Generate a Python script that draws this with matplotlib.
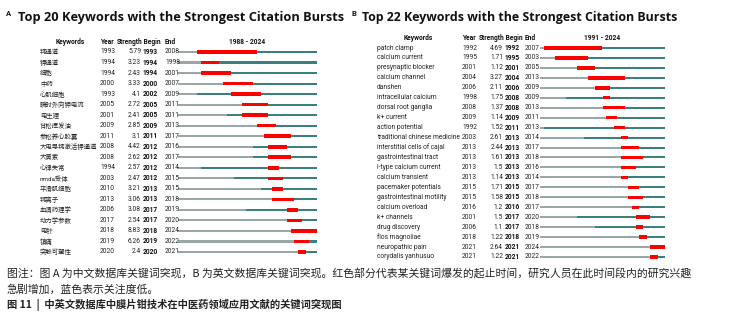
import matplotlib
matplotlib.use("Agg")
import matplotlib.pyplot as plt
from matplotlib.transforms import blended_transform_factory

W, H = 742, 320

# panel A: Chinese database
kw_a = ["钙通道", "钾通道", "细胞", "中药", "心肌细胞", "瞬时外向钾电流", "电生理",
        "甘松挥发油", "参松养心胶囊", "大电导钙激活钾通道", "大黄素", "心律失常",
        "nmda受体", "平滑肌细胞", "钙离子", "血清药理学", "动力学参数", "电针",
        "镇痛", "突触可塑性"]
year_a = [1993, 1994, 1994, 2000, 1993, 2005, 2001, 2009, 2011, 2008, 2008, 1994,
          2003, 2010, 2013, 2006, 2017, 2018, 2019, 2020]
strength_a = ["5.79", "3.23", "2.43", "3.33", "4.1", "2.72", "2.41", "2.85", "3.1", "4.42",
              "2.62", "2.57", "2.47", "3.21", "3.06", "3.08", "2.54", "8.83", "6.26", "2.4"]
begin_a = [1993, 1994, 1994, 2000, 2002, 2005, 2005, 2009, 2011, 2012, 2012, 2012,
           2012, 2013, 2013, 2017, 2017, 2018, 2019, 2020]
end_a = [2008, 1998, 2001, 2007, 2009, 2011, 2011, 2013, 2017, 2016, 2017, 2014,
         2015, 2015, 2018, 2019, 2020, 2024, 2022, 2021]
range_a = (1988, 2024)

# panel B: English database
kw_b = ["patch clamp", "calcium current", "presynaptic blocker", "calcium channel",
        "danshen", "intracellular calcium", "dorsal root ganglia", "k+ current",
        "action potential", "traditional chinese medicine", "interstitial cells of cajal",
        "gastrointestinal tract", "l-type calcium current", "calcium transient",
        "pacemaker potentials", "gastrointestinal motility", "calcium overload",
        "k+ channels", "drug discovery", "flos magnoliae", "neuropathic pain",
        "corydalis yanhusuo"]
year_b = [1992, 1995, 2001, 2004, 2006, 1998, 2008, 2009, 1992, 2003, 2013, 2013,
          2013, 2013, 2015, 2015, 2016, 2001, 2006, 2018, 2021, 2021]
strength_b = ["4.69", "1.71", "1.12", "3.27", "2.11", "1.75", "1.37", "1.14", "1.52", "2.61",
              "2.44", "1.61", "1.5", "1.14", "1.71", "1.58", "1.2", "1.5", "1.1", "1.22",
              "2.64", "1.22"]
begin_b = [1992, 1995, 2001, 2004, 2006, 2008, 2008, 2009, 2011, 2013, 2013, 2013,
           2013, 2013, 2015, 2015, 2016, 2017, 2017, 2018, 2021, 2021]
end_b = [2007, 2003, 2005, 2013, 2009, 2009, 2013, 2011, 2013, 2014, 2017, 2018,
         2016, 2014, 2017, 2018, 2017, 2020, 2018, 2019, 2024, 2022]
range_b = (1991, 2024)

caption1 = ("图注：图 A 为中文数据库关键词突现，B 为英文数据库关键词突现。红色部分代表某关键词爆发的起止时间，"
            "研究人员在此时间段内的研究兴趣")
caption2 = "急剧增加，蓝色表示关注度低。"
caption3 = "图 11  |  中英文数据库中膜片钳技术在中医药领域应用文献的关键词突现图"

GRAY, TEAL, RED = "#9ba7a7", "#3b807d", "#ff0000"
TXT = ["Roboto", "Noto Sans CJK SC", "DejaVu Sans"]
TTL = ["Open Sans", "DejaVu Sans"]
CJK = ["Noto Sans CJK SC", "DejaVu Sans"]

fig = plt.figure(figsize=(W / 100, H / 100), dpi=100)


def fx(px):
    return px / W


def fy(py):
    return 1 - py / H


def panel(letter, title, kws, years, strengths, begins, ends, yr, lay):
    n = len(kws)
    y0, y1 = lay["row0"], lay["rowN"]
    step = (y1 - y0) / (n - 1)
    top, bot = y0 - step / 2, y1 + step / 2
    ax = fig.add_axes([fx(lay["bx0"]), fy(bot), fx(lay["bx1"] - lay["bx0"]), (bot - top) / H])
    ax.set_xlim(yr[0], yr[1] + 1)
    ax.set_ylim(n - 0.5, -0.5)
    ax.axis("off")
    rows = list(range(n))
    # grey before first appearance, teal afterwards, red during the burst
    ax.barh(rows, [y - yr[0] for y in years], left=yr[0], height=0.2, color=GRAY, lw=0)
    ax.barh(rows, [yr[1] + 1 - y for y in years], left=years, height=0.2, color=TEAL, lw=0)
    ax.barh(rows, [e + 1 - b for b, e in zip(begins, ends)], left=begins, height=0.34,
            color=RED, lw=0)

    tr = blended_transform_factory(fig.transFigure, ax.transData)
    fs = 4.8
    for i in rows:
        ax.text(fx(lay["kw"]), i, kws[i], transform=tr, fontsize=lay["kwfs"], family=TXT,
                va="center", ha="left", color="#222222")
        ax.text(fx(lay["yr"]), i, str(years[i]), transform=tr, fontsize=fs, family=TXT,
                va="center", ha="left", color="#222222")
        ax.text(fx(lay["st"]), i, strengths[i], transform=tr, fontsize=fs, family=TXT,
                va="center", ha="right", color="#222222")
        ax.text(fx(lay["st"] + 1.5), i, str(begins[i]), transform=tr, fontsize=fs,
                family=TXT, fontweight="bold", va="center", ha="left", color="#111111")
        ax.text(fx(lay["en"]), i, str(ends[i]), transform=tr, fontsize=fs, family=TXT,
                va="center", ha="left", color="#222222")

    hy = fy(lay["head"])
    kw_hd = dict(fontsize=fs, family=TXT, fontweight="bold", va="center", color="#111111")
    fig.text(fx(lay["kwh"]), hy, "Keywords", ha="center", **kw_hd)
    fig.text(fx(lay["yr"]), hy, "Year", ha="left", **kw_hd)
    fig.text(fx(lay["st"] + 1.5), hy, "Strength", ha="right", **kw_hd)
    fig.text(fx(lay["st"] + 1.5), hy, " Begin", ha="left", **kw_hd)
    fig.text(fx(lay["en"]), hy, "End", ha="left", **kw_hd)
    fig.text(fx((lay["bx0"] + lay["bx1"]) / 2), hy, "%d - %d" % yr, ha="center", **kw_hd)

    fig.text(fx(lay["lx"]), fy(14), letter, fontsize=5.5, family=TXT, fontweight="bold",
             va="center", ha="left", color="#111111")
    fig.text(fx(lay["tx"]), fy(17), title, fontsize=lay["tfs"], family=TTL,
             fontweight="bold", va="center", ha="left", color="#111111")


panel("A", "Top 20 Keywords with the Strongest Citation Bursts", kw_a, year_a, strength_a,
      begin_a, end_a, range_a,
      dict(row0=52, rowN=252, bx0=178, bx1=317, kw=40, kwh=70, yr=100, st=141, en=165,
           head=41.5, lx=6, tx=18, kwfs=4.6, tfs=9.15))
panel("B", "Top 22 Keywords with the Strongest Citation Bursts", kw_b, year_b, strength_b,
      begin_b, end_b, range_b,
      dict(row0=48, rowN=257, bx0=540, bx1=665, kw=377, kwh=418, yr=462, st=503, en=525,
           head=38, lx=351, tx=362, kwfs=4.8, tfs=8.95))

fig.text(fx(7), fy(274), caption1, fontsize=7.8, family=CJK, va="center", ha="left",
         color="#222222")
fig.text(fx(7), fy(289.5), caption2, fontsize=7.8, family=CJK, va="center", ha="left",
         color="#222222")
fig.text(fx(7), fy(304.5), caption3, fontsize=7.4, family=CJK, fontweight="bold",
         va="center", ha="left", color="#222222")

fig.savefig("out.png", dpi=100, facecolor="white")
